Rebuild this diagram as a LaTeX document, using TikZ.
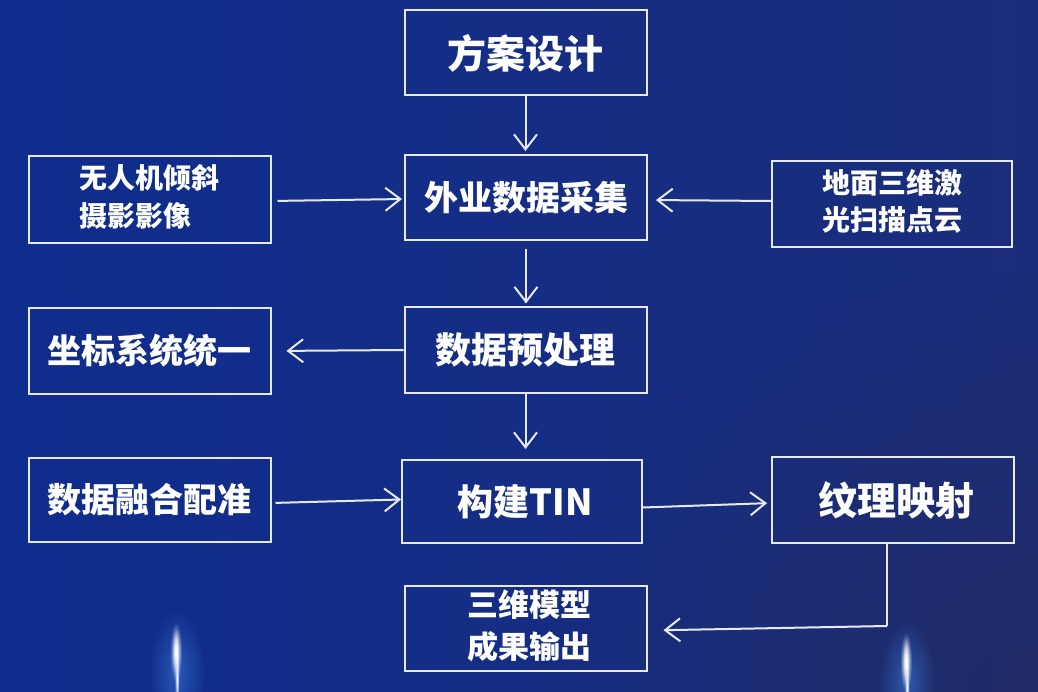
\documentclass[tikz,border=0pt]{standalone}
\usepackage{fontspec}
\newfontfamily\cjk{Noto Sans CJK SC}
\usetikzlibrary{arrows.meta,calc,fadings}
\definecolor{bgL}{HTML}{0F2D8E}
\definecolor{bgR}{HTML}{1B2D7A}
\definecolor{bgD}{HTML}{252B5A}
\definecolor{ln}{HTML}{E6E9F4}
\definecolor{glowblue}{HTML}{3A78D8}
\tikzfading[name=softglow, inner color=transparent!0, outer color=transparent!100]
\tikzset{
  box/.style={draw=ln, line width=2pt, inner sep=0pt, minimum width=242pt, minimum height=85pt, text=white, align=center},
  big/.style={font=\cjk\bfseries\fontsize{#1}{#1}\selectfont},
  flow/.style={draw=ln, line width=2pt, -{Straight Barb[length=15pt,width=23pt,line width=2pt]}},
  plain/.style={draw=ln, line width=2pt},
  halo/.style={fill=glowblue, opacity=0.6, path fading=softglow},
  core/.style={fill=white, opacity=1, path fading=softglow}
}
\begin{document}
\begin{tikzpicture}[x=1pt,y=-1pt]
\useasboundingbox (0,0) rectangle (1038,692);
\begin{scope}
\clip (0,0) rectangle (1038,692);
\shade[left color=bgL, right color=bgR] (0,0) rectangle (1038,692);
\fill[bgD, opacity=0.6, path fading=softglow] (1038,692) ellipse (520 and 420);
% glows
\path[halo] (177,672) ellipse (28 and 62);
\path[core] (176,652) ellipse (6 and 30);
\path[core] (176,652) ellipse (3.5 and 24);
\path[core] (177,680) ellipse (2.5 and 30);
\path[halo] (907,682) ellipse (28 and 62);
\path[core] (906,662) ellipse (6 and 30);
\path[core] (906,662) ellipse (3.5 and 24);
\path[core] (907,690) ellipse (2.5 and 30);
\end{scope}

% boxes
\node[box, big=39] (fangan) at (525.5,53) {方案设计};
\node[box, big=34] (waiye) at (526,197.5) {外业数据采集};
\node[box, big=28, minimum height=87pt] (uav) at (149.5,199.5) {\begin{tabular}{@{}l@{}}无人机倾斜\\[5pt]摄影影像\end{tabular}};
\node[box, big=28, minimum width=240pt, minimum height=86pt] (lidar) at (892,204) {\begin{tabular}{@{}l@{}}地面三维激\\[5pt]光扫描点云\end{tabular}};
\node[box, big=36] (yuchuli) at (525.5,350) {数据预处理};
\node[box, big=34, minimum height=86pt] (zuobiao) at (149.5,351) {坐标系统统一};
\node[box, big=34, minimum height=84pt] (ronghe) at (149.5,500) {数据融合配准};
\node[box, big=36, minimum width=240pt, minimum height=83pt] (tin) at (522,501.5) {\hspace*{6pt}构建TIN};
\node[box, big=39, minimum height=86pt] (wenli) at (893,500) {\hspace*{6pt}纹理映射};
\node[box, big=31] (output) at (525.5,628.5) {\hspace*{8pt}\begin{tabular}{@{}l@{}}三维模型\\[6pt]成果输出\end{tabular}};

% connectors
\draw[flow, shorten >=3pt] (fangan.south) -- (fangan.south |- waiye.north);
\draw[flow, shorten <=6pt, shorten >=2pt] ($(uav.east)+(0,1.5)$) -- ($(waiye.west)+(0,1.5)$);
\draw[flow, shorten >=8pt] ($(lidar.west)+(0,-3)$) -- ($(waiye.east)+(0,2.5)$);
\draw[flow, shorten <=8pt, shorten >=3pt] (waiye.south) -- (waiye.south |- yuchuli.north);
\draw[flow, shorten >=15pt] (yuchuli.west) -- (zuobiao.east);
\draw[flow, shorten >=10pt] (yuchuli.south) -- (yuchuli.south |- tin.north);
\draw[flow, shorten <=4pt] ($(ronghe.east)+(0,3)$) -- ($(tin.west)+(0,-2)$);
\draw[flow, shorten >=4pt] ($(tin.east)+(0,6)$) -- ($(wenli.west)+(0,3)$);
\coordinate (bend) at ($(wenli.south)+(-6,82)$);
\draw[plain] ($(wenli.south)+(-6,0)$) -- (bend);
\draw[flow, shorten >=16pt] (bend) -- ($(output.east)+(0,2)$);
\end{tikzpicture}
\end{document}
